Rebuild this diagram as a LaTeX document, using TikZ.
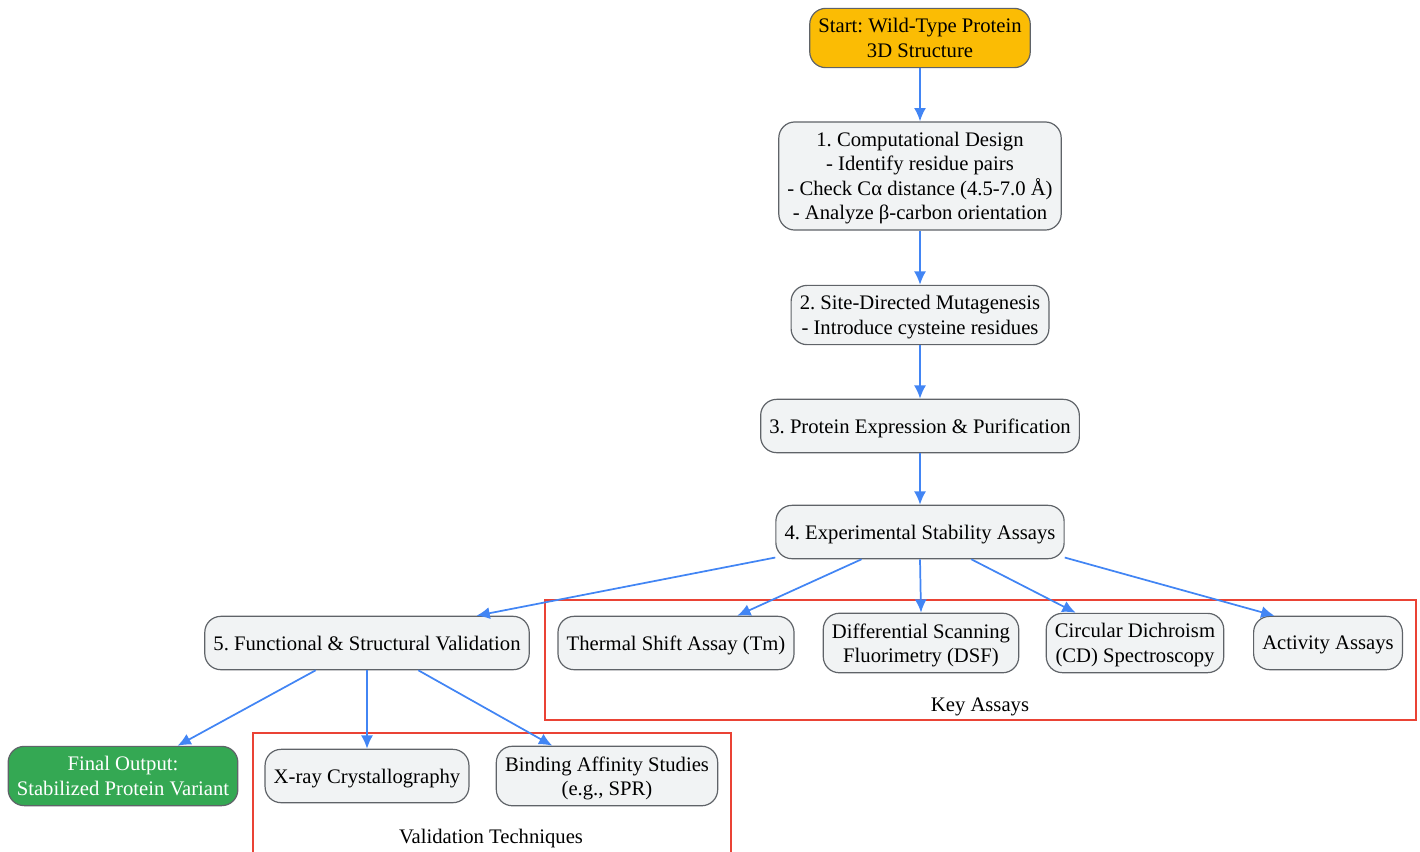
\documentclass[tikz,border=0pt]{standalone}
\usepackage{fontspec}
\setmainfont{Liberation Serif}
\usetikzlibrary{arrows.meta}
\definecolor{boxfill}{HTML}{F1F3F4}
\definecolor{boxline}{HTML}{5F6368}
\definecolor{edgeblue}{HTML}{4285F4}
\definecolor{startfill}{HTML}{FBBC04}
\definecolor{finalfill}{HTML}{34A853}
\definecolor{groupred}{HTML}{EA4335}
\tikzset{
	stage/.style={draw=boxline,fill=boxfill,line width=0.9pt,rounded corners=12pt,
		align=center,font=\fontsize{15.5}{18.3}\selectfont\frenchspacing,
		inner xsep=6.5pt,inner ysep=7.7pt,text depth=0pt,minimum height=40pt},
	flow/.style={draw=edgeblue,line width=1.3pt,-{Latex[length=10pt,width=9pt]}},
	group/.style={draw=groupred,line width=0.9pt},
	grouplabel/.style={font=\fontsize{15.5}{18.3}\selectfont}
}

\begin{document}
\begin{tikzpicture}[x=0.75pt,y=-0.75pt]
\useasboundingbox (0,0) rectangle (1420,851);
%groups
\draw[group] (545,600) rectangle (1416,720);
\node[grouplabel] (keylbl) at (980,707) {Key Assays};
\draw[group] (253,870) -- (253,733) -- (731,733) -- (731,870);
\node[grouplabel] (vallbl) at (491,839) {Validation Techniques};
%main steps
\node[stage,fill=startfill] (start) at (920,38) {Start: Wild-Type Protein\\3D Structure};
\node[stage] (design) at (920,176) {1. Computational Design\\- Identify residue pairs\\- Check Cα distance (4.5-7.0 Å)\\- Analyze β-carbon orientation};
\node[stage] (mutagen) at (920,315) {2. Site-Directed Mutagenesis\\- Introduce cysteine residues};
\node[stage] (express) at (920,426) {3. Protein Expression \& Purification};
\node[stage] (assays) at (920,532) {4. Experimental Stability Assays};
\node[stage] (valid) at (367,643) {5. Functional \& Structural Validation};
%assays
\node[stage] (thermal) at (676,643) {Thermal Shift Assay (Tm)};
\node[stage] (dsf) at (921,643) {Differential Scanning\\Fluorimetry (DSF)};
\node[stage] (cd) at (1135,643) {Circular Dichroism\\(CD) Spectroscopy};
\node[stage] (activity) at (1328,643) {Activity Assays};
%validation
\node[stage,fill=finalfill,text=white] (final) at (123,776) {Final Output:\\Stabilized Protein Variant};
\node[stage] (xray) at (367,776) {X-ray Crystallography};
\node[stage] (binding) at (607,776) {Binding Affinity Studies\\(e.g., SPR)};
%edges
\draw[flow] (start) -- (design);
\draw[flow] (design) -- (mutagen);
\draw[flow] (mutagen) -- (express);
\draw[flow] (express) -- (assays);
\draw[flow] (assays.190) -- (valid.14);
\foreach \s/\t in {205/thermal.24,270/dsf.north,-28/cd.153,-10/activity.153}{
	\draw[flow] (assays.\s) -- (\t);
}
\draw[flow] (valid.208) -- (final.29);
\draw[flow] (valid) -- (xray);
\draw[flow] (valid.-28) -- (binding.151);
\end{tikzpicture}
\end{document}
